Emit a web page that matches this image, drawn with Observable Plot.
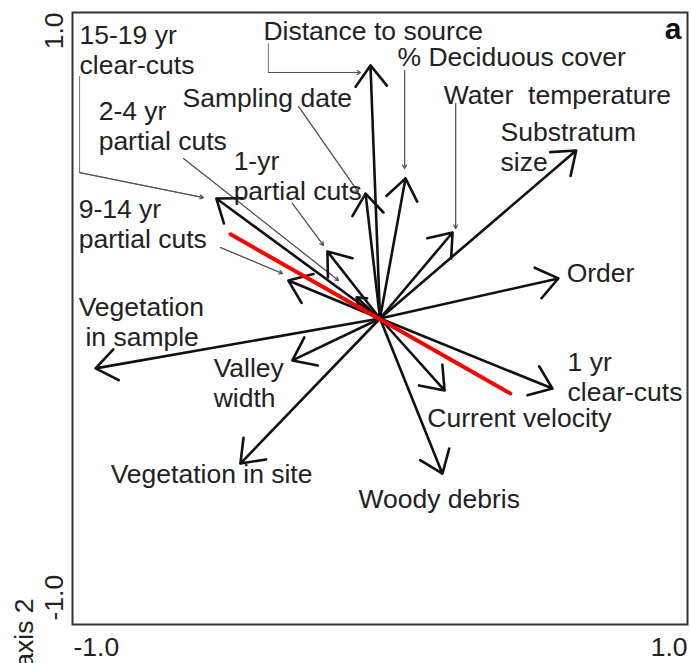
<!DOCTYPE html>
<html><head><meta charset="utf-8">
<script src="https://cdn.jsdelivr.net/npm/d3@7"></script>
<script src="https://cdn.jsdelivr.net/npm/@observablehq/plot@0.6"></script>
<style>body{margin:0;background:#fff} svg{display:block} svg text{white-space:pre}</style>
</head><body><div id="chart"></div>
<script>
// Environmental vectors (axis 1, axis 2 scores)
const variables = ["Distance to source","% Deciduous cover","Water temperature","Substratum size","Order","1 yr clear-cuts","Current velocity","Woody debris","Vegetation in site","Valley width","Vegetation in sample","9-14 yr partial cuts","15-19 yr clear-cuts","2-4 yr partial cuts","1-yr partial cuts","Sampling date"];
const axis1 = [-0.031, 0.083, 0.236, 0.638, 0.580, 0.561, 0.210, 0.203, -0.454, -0.285, -0.925, -0.298, -0.532, -0.076, -0.171, -0.047];
const axis2 = [0.827, 0.458, 0.281, 0.549, 0.131, -0.229, -0.235, -0.507, -0.474, -0.137, -0.163, 0.124, 0.392, 0.069, 0.219, 0.408];

// Red line endpoints
const redX = [-0.486, 0.424];
const redY = [0.275, -0.245];

// Label texts and positions
const labelText = ["Distance to source","% Deciduous cover","Water  temperature","Substratum\nsize","Order","1 yr\nclear-cuts","Current velocity","Woody debris","Vegetation in site","Valley\nwidth","Vegetation","in sample","9-14 yr\npartial cuts","15-19 yr\nclear-cuts","2-4 yr\npartial cuts","1-yr\npartial cuts","Sampling date"];
const labelX = [-0.379, 0.057, 0.207, 0.392, 0.607, 0.610, 0.154, -0.070, -0.876, -0.541, -0.980, -0.958, -0.980, -0.977, -0.915, -0.476, -0.642];
const labelY = [0.941, 0.856, 0.732, 0.562, 0.150, -0.190, -0.324, -0.588, -0.507, -0.209, 0.039, -0.059, 0.310, 0.879, 0.631, 0.467, 0.722];

// Leader lines (thin pointers from labels to arrows)
const leaderId = ["d","d","d","p","p","w","w","s","s","c","c","c","t","t","o","o","n","n"];
const leaderX = [-0.363,-0.363,-0.063, 0.080,0.080, 0.246,0.246, -0.265,-0.070, -0.977,-0.977,-0.574, -0.639,-0.135, -0.285,-0.184, -0.519,-0.317];
const leaderY = [0.899,0.804,0.804, 0.810,0.490, 0.703,0.294, 0.693,0.412, 0.791,0.477,0.395, 0.523,0.124, 0.376,0.239, 0.232,0.147];

const tickValues = [-1, 1];
const tickLabels = ["-1.0", "1.0"];

const vectors = variables.map((v, i) => ({name: v, x: axis1[i], y: axis2[i]}));
const labels = labelText.map((t, i) => ({t, x: labelX[i], y: labelY[i]}));
const leaderPts = leaderId.map((id, i) => ({id, x: leaderX[i], y: leaderY[i]}));
const leaderHeads = [];
for (const id of [...new Set(leaderId)]) {
  const pts = leaderPts.filter(p => p.id === id);
  const a = pts[pts.length - 2], b = pts[pts.length - 1];
  leaderHeads.push({x1: a.x, y1: a.y, x2: b.x, y2: b.y});
}
const red = redX.map((x, i) => ({x, y: redY[i]}));
const ticks = tickValues.map((v, i) => ({v, t: tickLabels[i]}));
const lo = ticks.filter(d => d.v < 0), hi = ticks.filter(d => d.v > 0);

const font = "Liberation Sans, Arial, Helvetica, sans-serif";
const fs = 26.5;
const chart = Plot.plot({
  width: 691, height: 663,
  marginLeft: 72, marginRight: 4, marginTop: 12, marginBottom: 39,
  x: {domain: [-1, 1], axis: null},
  y: {domain: [-1, 1], axis: null},
  style: {fontFamily: font, color: "#222", background: "#fff"},
  marks: [
    Plot.frame({stroke: "#333", strokeWidth: 2}),
    Plot.line(leaderPts, {x: "x", y: "y", z: "id", stroke: "#777", strokeWidth: 1}),
    Plot.arrow(leaderHeads, {x1: "x1", y1: "y1", x2: "x2", y2: "y2", stroke: "#555", strokeWidth: 1.2, headLength: 5, headAngle: 60}),
    Plot.arrow(vectors, {x1: 0, y1: 0, x2: "x", y2: "y", stroke: "#111", strokeWidth: 2.6, headLength: 15, headAngle: 74}),
    Plot.line(red, {x: "x", y: "y", stroke: "#f00", strokeWidth: 4}),
    Plot.text(labels, {x: "x", y: "y", text: "t", textAnchor: "start", lineAnchor: "middle", lineHeight: 1.13, fontSize: fs, fill: "#222"}),
    // x tick labels
    Plot.text(lo, {x: "v", y: -1, text: "t", textAnchor: "start", dx: 1, dy: 23, fontSize: fs, fill: "#222"}),
    Plot.text(hi, {x: "v", y: -1, text: "t", textAnchor: "end", dx: 0, dy: 23, fontSize: fs, fill: "#222"}),
    // y tick labels (rotated)
    Plot.text(lo, {x: -1, y: "v", text: "t", rotate: -90, textAnchor: "start", dx: -18, dy: -4, fontSize: fs, fill: "#222"}),
    Plot.text(hi, {x: -1, y: "v", text: "t", rotate: -90, textAnchor: "end", dx: -18, dy: 0, fontSize: fs, fill: "#222"}),
    Plot.text(["axis 2"], {x: -1, y: -1, text: d => d, rotate: -90, textAnchor: "end", dx: -48, dy: -26, fontSize: fs, fill: "#222"}),
    Plot.text(["a"], {frameAnchor: "top-right", text: d => d, textAnchor: "end", dx: -6, dy: 5, fontSize: 30, fontWeight: "bold", fill: "#111"})
  ]
});
document.getElementById("chart").append(chart);
</script>
</body></html>
